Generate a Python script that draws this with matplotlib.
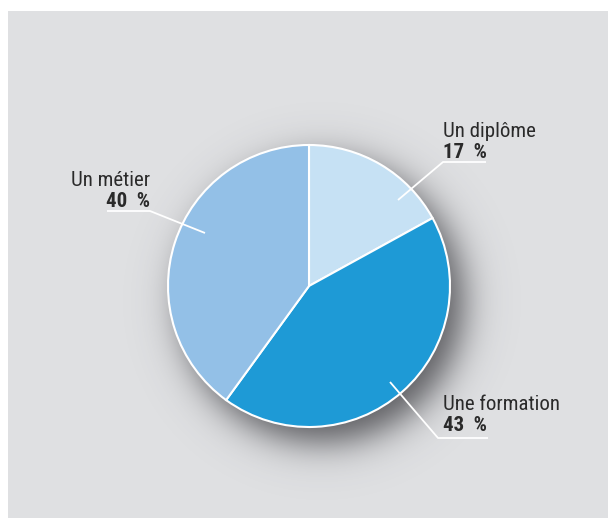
import numpy as np
import matplotlib.pyplot as plt
from matplotlib.patches import Rectangle

labels = ['Un diplôme', 'Une formation', 'Un métier']
pct_labels = ['17 %', '43 %', '40 %']
values = [17, 43, 40]
colors = ['#c6e1f4', '#1e9ad6', '#93c0e7']

W, H = 608, 518
cx, cy, rad = 309, H - 286, 141     # pie centre / radius in pixels

# label layout: anchor inside wedge, elbow, end of underline, text x, align
layout = [
    dict(pts=[(398, 200), (443, 162), (486, 162)], tx=443, ty=137, ha='left'),
    dict(pts=[(390, 382), (438, 438), (488, 438)], tx=443, ty=410, ha='left'),
    dict(pts=[(205, 233), (150, 211), (107, 211)], tx=150, ty=186, ha='right'),
]

fig = plt.figure(figsize=(W/100, H/100), dpi=100, facecolor='white')
ax = fig.add_axes([0, 0, 1, 1])
ax.set_axis_off()

bg = '#dfe0e2'
ax.add_patch(Rectangle((8, 0), W - 8, H - 11, facecolor=bg, edgecolor='none', zorder=0))

# soft drop shadow (blurred disc offset to bottom-right)
xs = np.arange(8, W) + 0.5
ys = np.arange(0, H - 11) + 0.5
X, Y = np.meshgrid(xs, ys)
d = np.hypot(X - (cx + 13), Y - (cy - 15)) - rad
alpha = 0.78 / (1 + np.exp(d / 11.0))
img = np.zeros(X.shape + (4,))
img[..., 0] = 0.2
img[..., 1] = 0.2
img[..., 2] = 0.22
img[..., 3] = alpha
ax.imshow(img, extent=(8, W, 0, H - 11), origin='lower', zorder=1, interpolation='bilinear')

wedges, _ = ax.pie(values, colors=colors, startangle=90, counterclock=False,
                   center=(cx, cy), radius=rad, frame=True,
                   wedgeprops=dict(edgecolor='white', linewidth=1.5))
for w in wedges:
    w.set_zorder(2)

font = ['Roboto Condensed', 'Lato', 'DejaVu Sans']
for lab, pct, lay in zip(labels, pct_labels, layout):
    px = [p[0] for p in lay['pts']]
    py = [H - p[1] for p in lay['pts']]
    ax.plot(px, py, color='white', lw=1.3, zorder=3, solid_capstyle='butt')
    ax.text(lay['tx'], H - lay['ty'], lab, ha=lay['ha'], va='baseline',
            fontsize=15, color='#2a2a2a', family=font, zorder=4)
    ax.text(lay['tx'], H - lay['ty'] - 21, pct.replace(' ', '  '), ha=lay['ha'], va='baseline',
            fontsize=15, color='#2a2a2a', family=font, fontweight='bold', zorder=4)

ax.set_xlim(0, W)
ax.set_ylim(0, H)
ax.set_aspect('auto')
ax.set_axis_off()

fig.savefig('out.png', dpi=100, facecolor='white')
